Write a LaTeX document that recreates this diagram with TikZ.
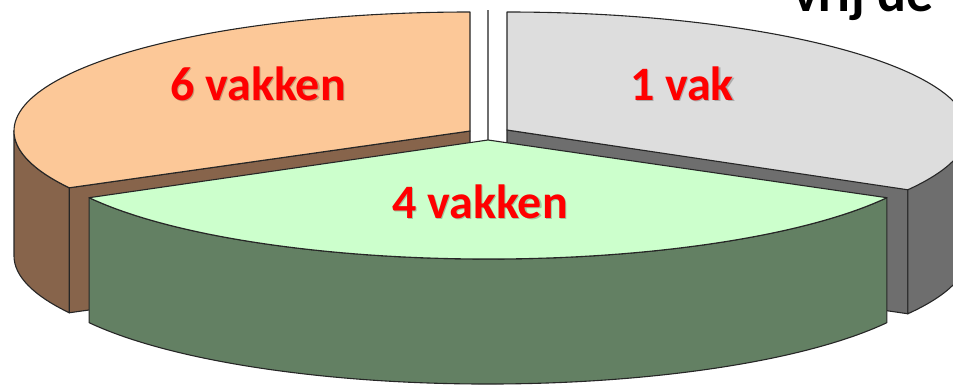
\documentclass[tikz,border=0pt]{standalone}
\usepackage{fontspec}
\setmainfont{Carlito}
\usepackage{tikz}

\definecolor{peach}{RGB}{252,200,152}
\definecolor{brownside}{RGB}{135,100,75}
\definecolor{lightgreen}{RGB}{204,255,204}
\definecolor{darkgreen}{RGB}{99,128,99}
\definecolor{lightgray}{RGB}{221,221,221}
\definecolor{darkgray}{RGB}{110,110,110}

\begin{document}
\begin{tikzpicture}[x=1pt, y=1pt,
    rim/.style={draw=black!85, line width=1.1pt, line join=round},
    pie/.style={x radius=456, y radius=119},
    piewide/.style={x radius=461, y radius=119},
    vak/.style={text=red, font=\fontsize{48}{48}\selectfont\bfseries, inner sep=0pt, anchor=base}]
      \useasboundingbox (0,0) rectangle (953,384);
      \clip (0,0) rectangle (953,384);
      % slice 6 vakken
      \coordinate (O) at (470,253);
      \draw [rim, fill=brownside] (O) -- ++(208.5:456 and 119) -- ++(0,-125) -- ([yshift=-125pt]O) -- cycle;
      \draw [rim, fill=brownside] ([shift={(180:456 and 119)}]O) arc [pie, start angle=180, end angle=208.5]
        -- ++(0,-125) arc [pie, start angle=208.5, end angle=180] -- cycle;
      \draw [rim, fill=peach] (O) -- ++(0,119) arc [pie, start angle=90, end angle=208.5] -- cycle;
      % slice 1 vak
      \coordinate (Y) at (507,254);
      \draw [rim, fill=darkgray] (Y) -- ++(-29.6:461 and 119) -- ++(0,-125) -- ([yshift=-125pt]Y) -- cycle;
      \draw [rim, fill=darkgray] ([shift={(-29.6:461 and 119)}]Y) arc [piewide, start angle=-29.6, end angle=0]
        -- ++(0,-125) arc [piewide, start angle=0, end angle=-29.6] -- cycle;
      \draw [rim, fill=lightgray] (Y) -- ++(0,118) arc [piewide, start angle=90, end angle=-29.6] -- cycle;
      % gap
      \coordinate (G) at (488,244);
      \coordinate (T) at (488,374);
      \draw [darkgray, line width=1.5pt] (G) -- (T);
      % slice 4 vakken
      \draw [rim, fill=darkgreen] ([shift={(209:456 and 119)}]G) arc [pie, start angle=209, end angle=331]
        -- ++(0,-125) arc [pie, start angle=331, end angle=209] -- cycle;
      \draw [rim, fill=lightgreen] (G) -- ++(209:456 and 119) arc [pie, start angle=209, end angle=331] -- cycle;
      % labels
      \foreach \name/\pos/\txt in {L6/{(258,284)}/6 vakken, L1/{(682,284)}/1 vak, L4/{(480,166)}/4 vakken} {
        \node [vak, text=black, opacity=0.22, xshift=1.5pt, yshift=-1.5pt] at \pos {\txt};
        \node [vak] (\name) at \pos {\txt};
      }
      \node [font=\fontsize{54}{54}\selectfont\bfseries, inner sep=0pt, anchor=base west] (title) at (793,373) {vrij de};
    \end{tikzpicture}
\end{document}
